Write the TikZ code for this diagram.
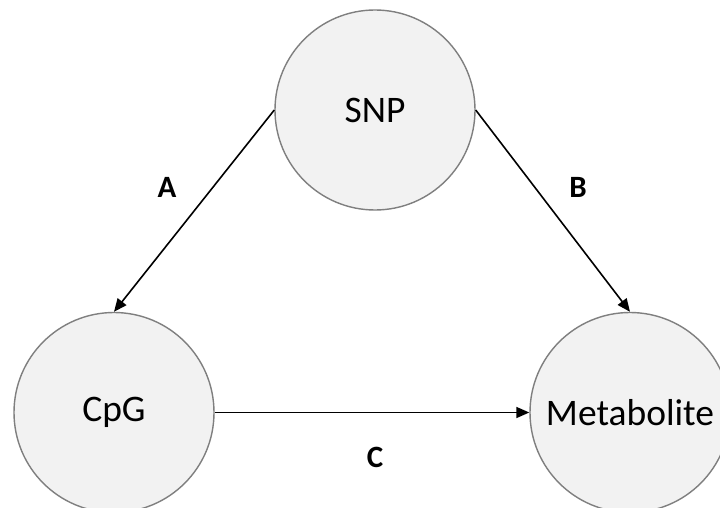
\documentclass[tikz,border=0pt]{standalone}
\usepackage{fontspec}
\setmainfont{Carlito}
\usetikzlibrary{arrows.meta}
\definecolor{nodefill}{HTML}{F2F2F2}
\definecolor{nodeline}{HTML}{7F7F7F}
\tikzset{
  bubble/.style={circle, draw=nodeline, fill=nodefill, line width=1.4pt, minimum size=200pt, inner sep=0pt, font=\fontsize{37.5}{44}\selectfont},
  link/.style={draw=black, line width=1.6pt, -{Triangle[length=13pt,width=11pt]}},
  tag/.style={font=\fontsize{31}{36}\selectfont\bfseries}
}
\begin{document}
\begin{tikzpicture}[x=1pt,y=-1pt]
\path[use as bounding box] (0,0) rectangle (720,508);
\clip (0,0) rectangle (720,508);
\fill[white] (0,0) rectangle (720,508);
\node[bubble] (snp) at (375,110) {SNP};
\node[bubble] (cpg) at (114,412.5) {CpG};
\node[bubble] (met) at (630,412.5) {Metabolite};
\draw[link] (snp.west) -- (cpg.north);
\draw[link] (snp.east) -- (met.north);
\draw[link] (cpg.east) -- (met.west);
\node[tag] (la) at (167,187) {A};
\node[tag] (lb) at (578,187) {B};
\node[tag] (lc) at (375,457) {C};
\end{tikzpicture}
\end{document}
